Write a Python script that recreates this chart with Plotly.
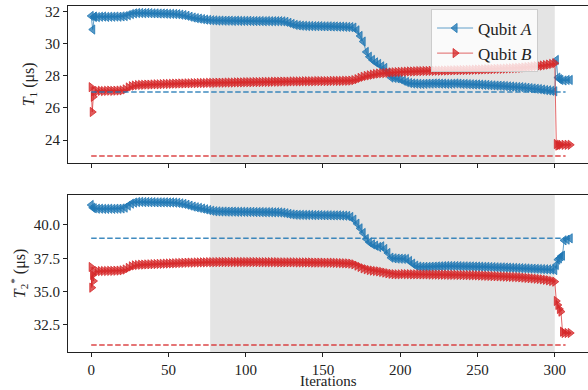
import plotly.graph_objects as go

# ---------------- data ----------------
main_iters = list(range(2, 301, 2))

# T1, Qubit A
t1_a_head_x = [0, 1, 2]
t1_a_head_y = [31.75, 30.9, 31.7]
t1_a_main = [
    31.70, 31.68, 31.70, 31.71, 31.69, 31.70, 31.70, 31.71, 31.70, 31.72,
    31.74, 31.80, 31.87, 31.91, 31.93, 31.93, 31.92, 31.93, 31.92, 31.91,
    31.91, 31.90, 31.90, 31.89, 31.88, 31.88, 31.87, 31.86, 31.83, 31.80,
    31.76, 31.70, 31.65, 31.61, 31.58, 31.55, 31.52, 31.50, 31.48, 31.47,
    31.46, 31.46, 31.45, 31.45, 31.45, 31.44, 31.45, 31.44, 31.44, 31.44,
    31.44, 31.43, 31.43, 31.43, 31.43, 31.42, 31.43, 31.42, 31.42, 31.42,
    31.42, 31.41, 31.38, 31.32, 31.25, 31.19, 31.16, 31.14, 31.13, 31.12,
    31.12, 31.11, 31.11, 31.11, 31.10, 31.10, 31.10, 31.09, 31.09, 31.08,
    31.08, 31.07, 31.06, 31.05, 31.02, 30.85, 30.50, 30.15, 29.50, 29.20,
    29.00, 28.85, 28.75, 28.60, 28.50, 28.20, 27.90, 27.88, 27.85, 27.80,
    27.70, 27.62, 27.56, 27.53, 27.52, 27.51, 27.50, 27.51, 27.52, 27.52,
    27.53, 27.53, 27.52, 27.52, 27.51, 27.51, 27.52, 27.53, 27.52, 27.50,
    27.50, 27.49, 27.48, 27.47, 27.47, 27.46, 27.45, 27.44, 27.42, 27.41,
    27.40, 27.39, 27.38, 27.37, 27.35, 27.34, 27.32, 27.31, 27.30, 27.28,
    27.26, 27.24, 27.22, 27.20, 27.18, 27.15, 27.12, 27.10, 27.07, 27.04,
]
t1_a_tail_x = [301, 302, 303, 304, 306, 308, 310]
t1_a_tail_y = [29.0, 27.9, 27.8, 27.75, 27.72, 27.75, 27.75]

# T1, Qubit B
t1_b_head_x = [0, 0.7, 1.4]
t1_b_head_y = [27.3, 25.75, 26.7]
t1_b_main = [
    27.05, 27.06, 27.07, 27.06, 27.07, 27.08, 27.07, 27.08, 27.09, 27.10,
    27.16, 27.28, 27.36, 27.40, 27.43, 27.44, 27.45, 27.46, 27.46, 27.47,
    27.48, 27.48, 27.49, 27.50, 27.50, 27.51, 27.52, 27.52, 27.53, 27.53,
    27.54, 27.54, 27.55, 27.55, 27.56, 27.56, 27.56, 27.57, 27.57, 27.57,
    27.58, 27.58, 27.58, 27.59, 27.59, 27.59, 27.60, 27.60, 27.60, 27.61,
    27.61, 27.61, 27.62, 27.62, 27.62, 27.63, 27.63, 27.63, 27.64, 27.64,
    27.64, 27.65, 27.65, 27.65, 27.66, 27.66, 27.66, 27.66, 27.67, 27.67,
    27.67, 27.67, 27.68, 27.68, 27.68, 27.68, 27.68, 27.69, 27.69, 27.69,
    27.69, 27.70, 27.70, 27.71, 27.74, 27.80, 27.88, 27.95, 28.00, 28.04,
    28.08, 28.12, 28.15, 28.17, 28.18, 28.20, 28.22, 28.23, 28.24, 28.25,
    28.26, 28.27, 28.28, 28.28, 28.29, 28.30, 28.30, 28.31, 28.31, 28.32,
    28.32, 28.33, 28.33, 28.34, 28.34, 28.35, 28.35, 28.36, 28.36, 28.37,
    28.37, 28.38, 28.38, 28.39, 28.40, 28.40, 28.41, 28.42, 28.42, 28.43,
    28.44, 28.45, 28.45, 28.46, 28.47, 28.48, 28.49, 28.50, 28.51, 28.53,
    28.55, 28.57, 28.59, 28.61, 28.63, 28.65, 28.68, 28.71, 28.75, 28.80,
]
t1_b_tail_x = [301, 302, 303, 304, 306, 308, 310]
t1_b_tail_y = [23.75, 23.65, 23.7, 23.7, 23.7, 23.7, 23.7]

# T2*, Qubit A
t2_a_head_x = [0, 1]
t2_a_head_y = [41.5, 41.3]
t2_a_main = [
    41.25, 41.22, 41.22, 41.21, 41.21, 41.22, 41.21, 41.22, 41.22, 41.24,
    41.30, 41.45, 41.60, 41.68, 41.72, 41.73, 41.72, 41.72, 41.71, 41.71,
    41.70, 41.70, 41.70, 41.70, 41.69, 41.69, 41.68, 41.66, 41.62, 41.58,
    41.52, 41.45, 41.38, 41.33, 41.28, 41.23, 41.18, 41.12, 41.07, 41.03,
    41.02, 41.01, 41.01, 41.00, 41.00, 41.00, 40.99, 40.99, 40.99, 40.98,
    40.98, 40.98, 40.97, 40.97, 40.97, 40.96, 40.96, 40.96, 40.95, 40.95,
    40.94, 40.92, 40.88, 40.83, 40.79, 40.77, 40.76, 40.76, 40.75, 40.75,
    40.75, 40.74, 40.74, 40.74, 40.73, 40.73, 40.73, 40.72, 40.72, 40.72,
    40.71, 40.70, 40.68, 40.60, 40.40, 40.10, 39.75, 39.40, 38.95, 38.70,
    38.55, 38.45, 38.35, 38.40, 38.20, 37.90, 37.55, 37.50, 37.48, 37.47,
    37.46, 37.45, 37.30, 37.10, 36.95, 36.88, 36.86, 36.86, 36.86, 36.87,
    36.88, 36.89, 36.90, 36.91, 36.92, 36.92, 36.92, 36.92, 36.91, 36.90,
    36.90, 36.89, 36.89, 36.88, 36.88, 36.87, 36.86, 36.86, 36.85, 36.84,
    36.83, 36.82, 36.82, 36.81, 36.80, 36.79, 36.78, 36.77, 36.76, 36.75,
    36.74, 36.73, 36.72, 36.71, 36.70, 36.69, 36.68, 36.67, 36.66, 36.62,
]
t2_a_tail_x = [301, 302, 303, 304, 305, 306, 308, 310]
t2_a_tail_y = [37.0, 37.4, 37.5, 37.65, 37.7, 38.85, 38.9, 39.0]

# T2*, Qubit B
t2_b_head_x = [0, 0.4, 0.9, 1.5]
t2_b_head_y = [36.85, 35.3, 36.25, 35.8]
t2_b_main = [
    36.50, 36.53, 36.54, 36.55, 36.55, 36.56, 36.56, 36.57, 36.58, 36.60,
    36.66, 36.78, 36.90, 36.97, 37.00, 37.02, 37.03, 37.04, 37.05, 37.06,
    37.07, 37.08, 37.09, 37.10, 37.11, 37.12, 37.13, 37.14, 37.15, 37.16,
    37.17, 37.18, 37.18, 37.19, 37.19, 37.20, 37.20, 37.21, 37.21, 37.21,
    37.22, 37.22, 37.22, 37.22, 37.22, 37.22, 37.22, 37.22, 37.22, 37.22,
    37.22, 37.22, 37.22, 37.22, 37.21, 37.21, 37.21, 37.21, 37.21, 37.21,
    37.20, 37.20, 37.20, 37.20, 37.20, 37.20, 37.19, 37.19, 37.19, 37.19,
    37.19, 37.18, 37.18, 37.18, 37.18, 37.17, 37.17, 37.17, 37.16, 37.15,
    37.14, 37.13, 37.12, 37.10, 37.05, 36.95, 36.85, 36.75, 36.68, 36.62,
    36.58, 36.55, 36.52, 36.48, 36.43, 36.38, 36.34, 36.31, 36.30, 36.30,
    36.32, 36.31, 36.31, 36.30, 36.30, 36.30, 36.29, 36.29, 36.29, 36.28,
    36.28, 36.28, 36.27, 36.27, 36.27, 36.26, 36.26, 36.26, 36.25, 36.25,
    36.24, 36.24, 36.23, 36.23, 36.22, 36.21, 36.20, 36.19, 36.18, 36.17,
    36.16, 36.15, 36.14, 36.13, 36.12, 36.11, 36.10, 36.09, 36.07, 36.05,
    36.03, 36.01, 35.99, 35.97, 35.95, 35.92, 35.89, 35.85, 35.80, 35.75,
]
t2_b_tail_x = [301, 302, 303, 304, 305, 306, 308, 310]
t2_b_tail_y = [34.3, 34.0, 33.7, 33.5, 32.0, 31.9, 31.9, 31.9]

# reference levels (dashed lines) and shaded interval
t1_ref_a, t1_ref_b = 27.0, 23.0
t2_ref_a, t2_ref_b = 39.0, 31.0
ref_x_start, ref_x_end = 0, 307
shade_start, shade_end = 77, 300

x_ticks = [0, 50, 100, 150, 200, 250, 300]
t1_ticks = [24, 26, 28, 30, 32]
t2_ticks = [32.5, 35.0, 37.5, 40.0]

# ---------------- styling ----------------
BLUE = "#1f77b4"
RED = "#d62728"
FONT = "Liberation Serif"


def series(hx, hy, main, tx, ty):
    return hx + main_iters + tx, hy + main + ty


def rgba(hexc, a):
    h = hexc.lstrip("#")
    return f"rgba({int(h[0:2],16)},{int(h[2:4],16)},{int(h[4:6],16)},{a})"


fig = go.Figure()

def add(hx, hy, main, tx, ty, color, symbol, name, xa, ya, legend):
    x, y = series(hx, hy, main, tx, ty)
    fig.add_trace(go.Scatter(
        x=x, y=y, mode="lines+markers", name=name, showlegend=legend,
        xaxis=xa, yaxis=ya,
        line=dict(color=rgba(color, 0.7), width=1),
        marker=dict(symbol=symbol, size=8, color=rgba(color, 0.75),
                    line=dict(color=color, width=0.8)),
    ))

add(t1_a_head_x, t1_a_head_y, t1_a_main, t1_a_tail_x, t1_a_tail_y, BLUE, "triangle-left",
    "Qubit <i>A</i>", "x", "y", True)
add(t1_b_head_x, t1_b_head_y, t1_b_main, t1_b_tail_x, t1_b_tail_y, RED, "triangle-right",
    "Qubit <i>B</i>", "x", "y", True)
add(t2_a_head_x, t2_a_head_y, t2_a_main, t2_a_tail_x, t2_a_tail_y, BLUE, "triangle-left",
    "Qubit A", "x2", "y2", False)
add(t2_b_head_x, t2_b_head_y, t2_b_main, t2_b_tail_x, t2_b_tail_y, RED, "triangle-right",
    "Qubit B", "x2", "y2", False)

shapes = []
for xr, yr in (("x", "y"), ("x2", "y2")):
    shapes.append(dict(type="rect", xref=xr, yref=f"{yr} domain", x0=shade_start, x1=shade_end,
                       y0=0, y1=1, fillcolor="#e4e4e4", line=dict(width=0), layer="below"))
for xr, yr, val, col in (("x", "y", t1_ref_a, BLUE), ("x", "y", t1_ref_b, RED),
                         ("x2", "y2", t2_ref_a, BLUE), ("x2", "y2", t2_ref_b, RED)):
    shapes.append(dict(type="line", xref=xr, yref=yr, x0=ref_x_start, x1=ref_x_end, y0=val, y1=val,
                       line=dict(color=rgba(col, 0.85), width=1.5, dash="5.5px,2.5px"), layer="above"))

axis_common = dict(showline=True, mirror=True, linecolor="#222", linewidth=1.2,
                   ticks="outside", ticklen=4, tickwidth=1, tickcolor="#222",
                   showgrid=False, zeroline=False, automargin=False,
                   tickfont=dict(family=FONT, size=15, color="#222"))

fig.update_layout(
    width=588, height=390,
    margin=dict(l=68, r=0, t=6, b=38),
    paper_bgcolor="white", plot_bgcolor="white",
    font=dict(family=FONT, size=16, color="#222"),
    shapes=shapes,
    xaxis=dict(domain=[0, 1], anchor="y", range=[-15, 321.5], tickvals=x_ticks,
               showticklabels=False, **axis_common),
    xaxis2=dict(domain=[0, 1], anchor="y2", range=[-15, 321.5], tickvals=x_ticks,
                **axis_common),
    yaxis=dict(domain=[0.547, 1], anchor="x", range=[22.58, 32.37], tickvals=t1_ticks,
               title=dict(text="<i>T</i><sub>1</sub> (μs)", standoff=6, font=dict(family=FONT, size=16)),
               **axis_common),
    yaxis2=dict(domain=[0, 0.4538], anchor="x2", range=[30.475, 42.25], tickvals=t2_ticks,
                ticktext=[f"{v:.1f}" for v in t2_ticks],
                title=dict(text="<i>T</i><sub>2</sub><sup>*</sup> (μs)", standoff=4,
                           font=dict(family=FONT, size=16)),
                **axis_common),
    annotations=[dict(text="Iterations", xref="paper", yref="paper", x=0.5, y=-38 / 346,
                      xanchor="center", yanchor="bottom", yshift=0, borderpad=0, showarrow=False,
                      font=dict(family=FONT, size=15, color="#222"))],
    legend=dict(x=0.904, y=0.99, xanchor="right", yanchor="top",
                bgcolor="rgba(255,255,255,0.8)", bordercolor="#cccccc", borderwidth=1,
                font=dict(family=FONT, size=17, color="#222"), tracegroupgap=2,
                itemwidth=36),
)

fig.write_html("out.html", config={"displayModeBar": False},
               post_script="document.body.style.margin='0';")
